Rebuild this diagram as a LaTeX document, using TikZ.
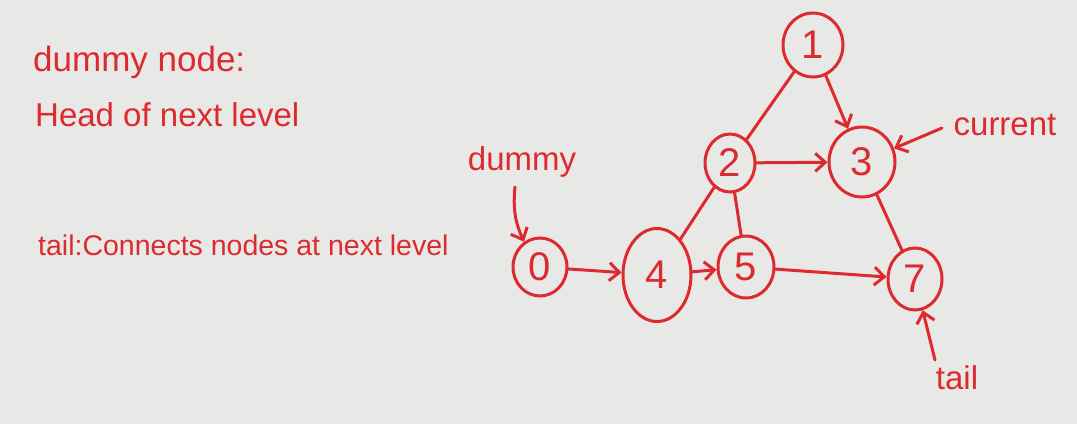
\documentclass[tikz,border=0pt]{standalone}
\usepackage{fontspec}
\setmainfont{Liberation Sans}
\usetikzlibrary{shapes.geometric,arrows.meta}
\definecolor{board}{HTML}{E8E9E6}
\definecolor{marker}{HTML}{DD2A2F}
\tikzset{
  vert/.style={ellipse,draw=marker,line width=3pt,inner sep=0pt,text=marker,font=\fontsize{40}{40}\selectfont},
  edge/.style={draw=marker,line width=3pt,line cap=round},
  arr/.style={edge,-{Straight Barb[length=10pt,width=18pt,line width=3pt]}},
  note/.style={text=marker,anchor=west,inner sep=0pt},
  lbl/.style={text=marker,inner sep=0pt,font=\fontsize{33}{33}\selectfont}
}
\begin{document}
\begin{tikzpicture}[x=1pt,y=-1pt]
\fill[board] (0,0) rectangle (1077,424);
\useasboundingbox (0,0) rectangle (1077,424);
% notes
\node[note,font=\fontsize{35}{35}\selectfont] (t1) at (33,62) {dummy node:};
\node[note,font=\fontsize{33}{33}\selectfont] (t2) at (35,115) {Head of next level};
\node[note,font=\fontsize{28.5}{28.5}\selectfont] (t3) at (38,245) {tail:Connects nodes at next level};
% vertices
\node[vert,minimum width=60pt,minimum height=64pt] (n1) at (813,45) {1};
\node[vert,minimum width=50pt,minimum height=58pt] (n2) at (730,163) {2};
\node[vert,minimum width=66pt,minimum height=70pt] (n3) at (862,162) {3};
\node[vert,minimum width=54pt,minimum height=58pt] (n0) at (540,267) {0};
\node[vert,minimum width=68pt,minimum height=93pt] (n4) at (657,275) {4};
\node[vert,minimum width=56pt,minimum height=62pt] (n5) at (746,267) {5};
\node[vert,minimum width=54pt,minimum height=62pt] (n7) at (915,279) {7};
% edges
\draw[edge] (n1) -- (n2);
\draw[arr] (n1) -- (n3);
\draw[arr] (n2) -- (n3);
\draw[edge] (n2) -- (n4);
\draw[edge] (n2) -- (n5);
\draw[edge] (n3) -- (n7);
\draw[arr] (n0) -- (n4);
\draw[arr] (n4) -- (n5);
\draw[arr] (n5) -- (n7);
% pointer labels
\node[lbl] (ldummy) at (522,162) {dummy};
\node[lbl] (lcur) at (1005,125) {current};
\node[lbl] (ltail) at (957,378) {tail};
\coordinate (cd) at (515,187);
\coordinate (cc) at (942,128);
\coordinate (ct) at (935,360);
\draw[arr] (cd) to[bend right=15] (n0);
\draw[arr] (cc) -- (n3);
\draw[arr] (ct) -- (n7);
\end{tikzpicture}
\end{document}
